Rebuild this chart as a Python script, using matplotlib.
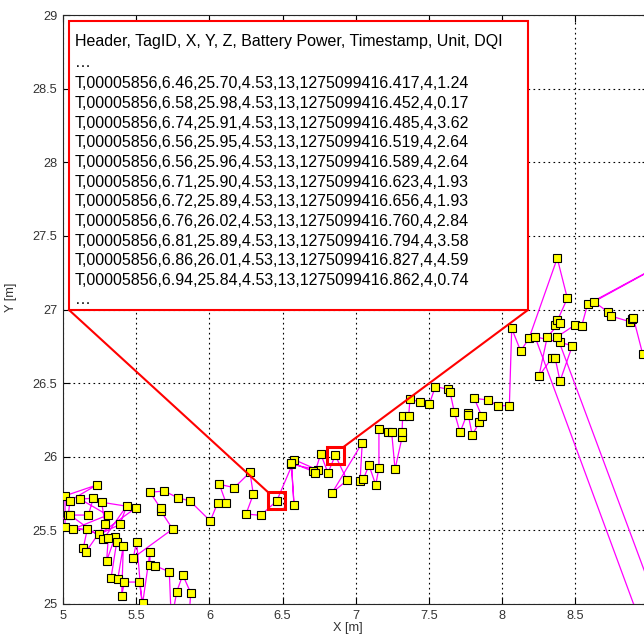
import matplotlib
matplotlib.use("Agg")
import matplotlib.pyplot as plt
from matplotlib.patches import Rectangle

plt.rcParams['font.family'] = ['Liberation Sans', 'DejaVu Sans']

# track of tag positions (m), in the order they were recorded
track_x = [4.93, 5.014, 5.014, 5.230, 5.048, 5.036, 5.173, 5.207, 5.116, 5.305,
           5.070, 5.166, 5.139, 5.157, 5.287, 5.264, 5.499, 5.248, 5.389, 5.435,
           5.275, 5.048, 4.94, 5.355, 5.298, 5.309, 5.367, 5.328, 5.374, 5.412,
           5.401, 5.419, 5.521, 5.544, 5.594, 5.594, 5.628, 5.726, 5.74, 5.777,
           5.818, 5.872, 5.86, 5.55, 5.503, 5.480, 5.749, 5.667, 5.667, 5.594,
           5.692, 5.783, 5.867, 6.006, 6.057, 6.113, 6.068, 6.170, 6.277, 6.300,
           6.250, 6.350,
           6.46, 6.58, 6.74, 6.56, 6.578, 6.56, 6.71, 6.72, 6.76, 6.81, 6.86, 6.94,
           6.839, 7.044, 7.029, 7.051, 7.090, 7.136, 7.158, 7.158, 7.222, 7.245,
           7.268, 7.316, 7.316, 7.320, 7.361, 7.370, 7.439, 7.502, 7.543, 7.632,
           7.643, 7.673, 7.712, 7.764, 7.768, 7.796, 7.842, 7.860, 7.809, 7.905,
           7.969, 8.049, 8.065, 8.126, 8.183, 8.376, 8.445, 8.363, 8.376, 8.395,
           8.308, 8.251, 8.338, 8.361, 8.395, 8.479, 8.395, 8.224, 9.12, 9.28,
           8.376, 8.497, 8.543, 8.583, 9.30, 8.627, 8.725, 8.741, 8.873, 8.884,
           8.896, 8.960, 9.10]
track_y = [25.47, 25.525, 25.735, 25.808, 25.702, 25.604, 25.604, 25.718, 25.713, 25.604,
           25.509, 25.509, 25.382, 25.355, 25.541, 25.691, 25.654, 25.473, 25.541, 25.666,
           25.439, 25.604, 25.55, 25.453, 25.292, 25.446, 25.423, 25.175, 25.168, 25.396,
           25.056, 25.149, 25.149, 25.005, 25.351, 25.265, 25.260, 25.219, 24.88, 25.084,
           25.197, 25.077, 24.88, 24.88, 25.423, 25.314, 25.509, 25.634, 25.650, 25.759,
           25.767, 25.722, 25.700, 25.564, 25.688, 25.688, 25.813, 25.790, 25.894, 25.745,
           25.611, 25.602,
           25.70, 25.98, 25.91, 25.95, 25.672, 25.96, 25.90, 25.89, 26.02, 25.89, 26.01, 25.84,
           25.756, 26.095, 25.833, 25.847, 25.942, 25.810, 25.924, 26.186, 26.166, 26.166,
           25.915, 26.132, 26.166, 26.277, 26.277, 26.390, 26.372, 26.356, 26.476, 26.458,
           26.442, 26.304, 26.166, 26.299, 26.284, 26.146, 26.234, 26.277, 26.397, 26.385,
           26.347, 26.347, 26.872, 26.718, 26.804, 27.348, 27.076, 26.893, 26.929, 26.910,
           26.815, 26.548, 26.669, 26.673, 26.514, 26.754, 26.777, 26.815, 24.40, 24.40,
           26.815, 26.895, 26.888, 27.035, 27.42, 27.053, 26.981, 26.956, 26.917, 26.935,
           26.944, 26.696, 26.50]

# the two records that are highlighted
mark_x = [6.46, 6.86]
mark_y = [25.70, 26.01]

x_ticks = [5, 5.5, 6, 6.5, 7, 7.5, 8, 8.5, 9]
x_labels = ['5', '5.5', '6', '6.5', '7', '7.5', '8', '8.5', '']
y_ticks = [25, 25.5, 26, 26.5, 27, 27.5, 28, 28.5, 29]
y_labels = ['25', '25.5', '26', '26.5', '27', '27.5', '28', '28.5', '29']

log_lines = [
    "Header, TagID, X, Y, Z, Battery Power, Timestamp, Unit, DQI",
    "\u2026",
    "T,00005856,6.46,25.70,4.53,13,1275099416.417,4,1.24",
    "T,00005856,6.58,25.98,4.53,13,1275099416.452,4,0.17",
    "T,00005856,6.74,25.91,4.53,13,1275099416.485,4,3.62",
    "T,00005856,6.56,25.95,4.53,13,1275099416.519,4,2.64",
    "T,00005856,6.56,25.96,4.53,13,1275099416.589,4,2.64",
    "T,00005856,6.71,25.90,4.53,13,1275099416.623,4,1.93",
    "T,00005856,6.72,25.89,4.53,13,1275099416.656,4,1.93",
    "T,00005856,6.76,26.02,4.53,13,1275099416.760,4,2.84",
    "T,00005856,6.81,25.89,4.53,13,1275099416.794,4,3.58",
    "T,00005856,6.86,26.01,4.53,13,1275099416.827,4,4.59",
    "T,00005856,6.94,25.84,4.53,13,1275099416.862,4,0.74",
    "\u2026",
]

W, H = 644, 640
fig = plt.figure(figsize=(W / 100, H / 100), dpi=100)
ax = fig.add_axes([63 / W, 36 / H, 585.6 / W, 589 / H])

ax.plot(track_x, track_y, '-', color='#ff00ff', lw=0.9, zorder=3)
ax.plot(track_x, track_y, 's', ms=5.5, mfc='#ffff00', mec='black', mew=0.8, zorder=4)

ax.set_xlim(5, 9)
ax.set_ylim(25, 29)
ax.set_xticks(x_ticks)
ax.set_xticklabels(x_labels)
ax.set_yticks(y_ticks)
ax.set_yticklabels(y_labels)
ax.grid(True, color='black', linestyle=(0, (1.5, 3)), linewidth=0.8)
ax.tick_params(direction='in', top=True, right=True, length=5, width=0.8,
               labelsize=9.2, labelcolor='#333333', pad=4)
for sp in ax.spines.values():
    sp.set_color('#262626')
    sp.set_linewidth(0.8)

ax.set_xlabel('X [m]', fontsize=9.2, color='#333333')
ax.xaxis.set_label_coords(0.487, -0.031)
ax.set_ylabel('Y [m]', fontsize=9.2, color='#333333')
ax.yaxis.set_label_coords(-0.078, 0.52)

# highlight squares around the two records
half = 0.058
for mx, my in zip(mark_x, mark_y):
    ax.add_patch(Rectangle((mx - half, my - half), 2 * half, 2 * half, fill=False,
                           ec='red', lw=2.2, zorder=6))

# callout box with the raw log
bx0, bx1, by0, by1 = 5.041, 8.176, 26.997, 28.959
ax.add_patch(Rectangle((bx0, by0), bx1 - bx0, by1 - by0, fc='white', ec='red',
                       lw=1.5, zorder=7))
ax.plot([bx0, mark_x[0] - half], [by0, mark_y[0] + half], color='red', lw=1.5, zorder=7)
ax.plot([bx1, mark_x[1] + half], [by0, mark_y[1] + half], color='red', lw=1.5, zorder=7)

baselines = [46, 67] + [88.5 + 19.65 * i for i in range(11)] + [304]
for txt, b in zip(log_lines, baselines):
    fig.text(75 / W, 1 - b / H, txt, fontsize=11.5, va='baseline', ha='left',
             color='black', zorder=8)

fig.savefig('out.png', dpi=100)
